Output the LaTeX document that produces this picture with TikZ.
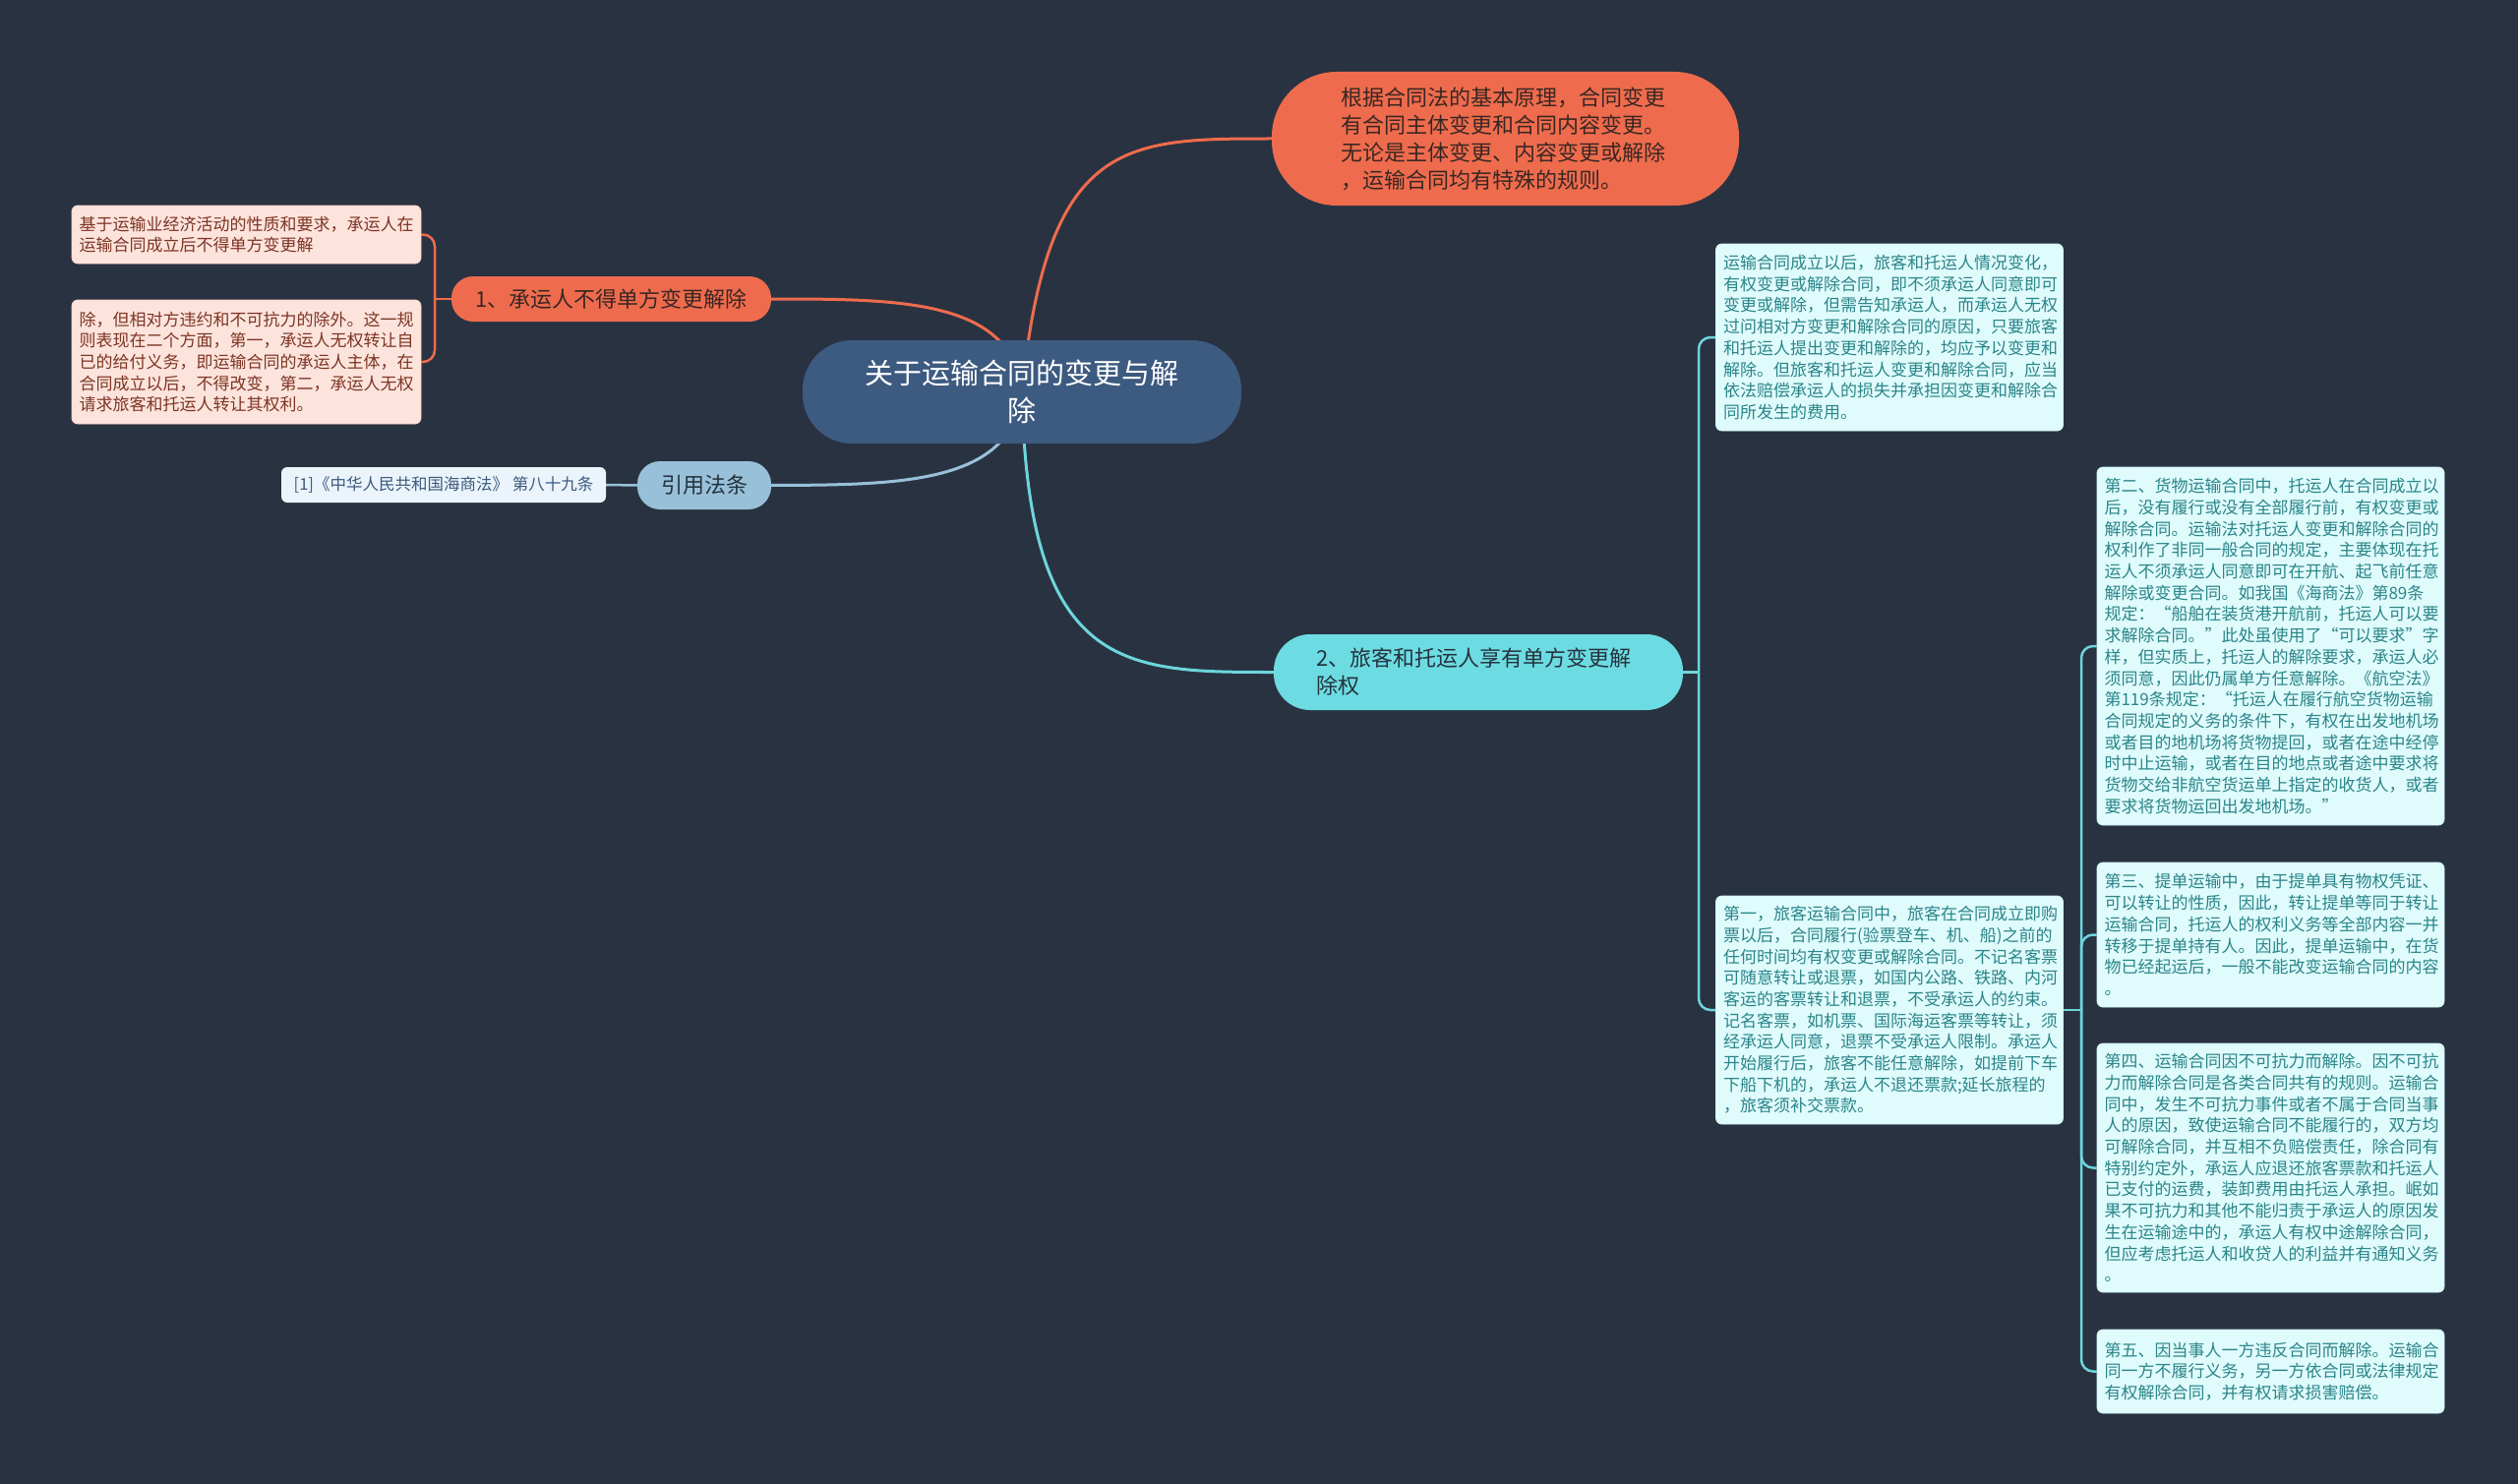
\documentclass[tikz,border=0pt]{standalone}
\usepackage{fontspec}
\newfontfamily\cjk{Noto Sans CJK SC}
\definecolor{bgc}{HTML}{293241}
\definecolor{navy}{HTML}{3D5A80}
\definecolor{orng}{HTML}{EE6C4D}
\definecolor{lblue}{HTML}{98C1D9}
\definecolor{cyanb}{HTML}{6DDCE2}
\definecolor{cyanl}{HTML}{6DD5DD}
\definecolor{leafcyan}{HTML}{E0FBFC}
\definecolor{leafpink}{HTML}{FCE4DC}
\definecolor{pinktext}{HTML}{7E3424}
\definecolor{cyantext}{HTML}{2A8589}
\definecolor{reftext}{HTML}{3D5A80}
\definecolor{reffill}{HTML}{EAF4FA}
\definecolor{darko}{HTML}{3A2623}
\definecolor{darkc}{HTML}{25333F}
\pgfdeclarelayer{bgl}
\pgfdeclarelayer{conn}
\pgfsetlayers{bgl,conn,main}
\begin{document}
\begin{tikzpicture}[x=1pt,y=-1pt,
  leafbase/.style={rectangle, rounded corners=6pt, inner xsep=7.5pt, inner ysep=6pt, align=left,
    font=\cjk\fontsize{17}{21.7}\selectfont, anchor=center},
  pinkleaf/.style={leafbase, fill=leafpink, draw=leafpink!85!orng, line width=0.8pt, text=pinktext, text width=340pt},
  cyanleaf/.style={leafbase, fill=leafcyan, draw=leafcyan!85!cyanl, line width=0.8pt, text=cyantext, text width=338pt},
  refleaf/.style={rectangle, rounded corners=6pt, inner sep=0pt, anchor=center, fill=reffill, text=reftext,
    font=\cjk\fontsize{16.5}{20}\selectfont, minimum width=330pt, minimum height=36pt},
  topic/.style={rectangle, anchor=center, inner sep=0pt, font=\cjk\fontsize{22}{28}\selectfont},
  oconn/.style={draw=orng, line width=3pt},
  bconn/.style={draw=lblue, line width=3pt},
  cconn/.style={draw=cyanl, line width=3pt},
  oarm/.style={draw=orng, line width=2.5pt, rounded corners=12pt},
  carm/.style={draw=cyanl, line width=2.5pt, rounded corners=12pt}
]
\useasboundingbox (0,0) rectangle (2560,1509);
\begin{pgfonlayer}{bgl}
\fill[bgc] (0,0) rectangle (2560,1509);
\end{pgfonlayer}

% central
\node[topic, fill=navy, text=white, rounded corners=50pt, minimum width=446pt, minimum height=105pt,
  align=center, text width=340pt, font=\cjk\fontsize{29}{38}\selectfont] (c) at (1039,398.5)
  {关于运输合同的变更与解\\除};

% top orange
\node[topic, fill=orng, text=darko, rounded corners=66pt, minimum width=475pt, minimum height=136pt,
  align=left, text width=335pt] (t) at (1530.5,141)
  {根据合同法的基本原理，合同变更\\有合同主体变更和合同内容变更。\\无论是主体变更、内容变更或解除\\，运输合同均有特殊的规则。};

% branch 1
\node[topic, fill=orng, text=darko, rounded corners=22pt, minimum width=325pt, minimum height=46pt,
  align=center] (b1) at (621.5,304) {1、承运人不得单方变更解除};

\node[pinkleaf, minimum height=59pt] (l1a) at (250.5,238.5)
  {基于运输业经济活动的性质和要求，承运人在\\运输合同成立后不得单方变更解};
\node[pinkleaf, minimum height=126pt] (l1b) at (250.5,368)
  {除，但相对方违约和不可抗力的除外。这一规\\则表现在二个方面，第一，承运人无权转让自\\已的给付义务，即运输合同的承运人主体，在\\合同成立以后，不得改变，第二，承运人无权\\请求旅客和托运人转让其权利。};

% reference
\node[topic, fill=lblue, text=darkc, rounded corners=23pt, minimum width=136pt, minimum height=49pt,
  align=center] (r) at (716,493.5) {引用法条};
\node[refleaf] (rl) at (451,493) {[1]《中华人民共和国海商法》 第八十九条};

% branch 2
\node[topic, fill=cyanb, text=darkc, rounded corners=37pt, minimum width=416pt, minimum height=77pt,
  align=left, text width=330pt] (b2) at (1503,683.5)
  {2、旅客和托运人享有单方变更解\\除权};

\node[cyanleaf, minimum height=190pt] (l2a) at (1921,343)
  {运输合同成立以后，旅客和托运人情况变化，\\有权变更或解除合同，即不须承运人同意即可\\变更或解除，但需告知承运人，而承运人无权\\过问相对方变更和解除合同的原因，只要旅客\\和托运人提出变更和解除的，均应予以变更和\\解除。但旅客和托运人变更和解除合同，应当\\依法赔偿承运人的损失并承担因变更和解除合\\同所发生的费用。};

\node[cyanleaf, minimum height=232pt] (l2b) at (1921,1027)
  {第一，旅客运输合同中，旅客在合同成立即购\\票以后，合同履行(验票登车、机、船)之前的\\任何时间均有权变更或解除合同。不记名客票\\可随意转让或退票，如国内公路、铁路、内河\\客运的客票转让和退票，不受承运人的约束。\\记名客票，如机票、国际海运客票等转让，须\\经承运人同意，退票不受承运人限制。承运人\\开始履行后，旅客不能任意解除，如提前下车\\下船下机的，承运人不退还票款;延长旅程的\\，旅客须补交票款。};

\node[cyanleaf, minimum height=364pt] (k2) at (2308.5,657)
  {第二、货物运输合同中，托运人在合同成立以\\后，没有履行或没有全部履行前，有权变更或\\解除合同。运输法对托运人变更和解除合同的\\权利作了非同一般合同的规定，主要体现在托\\运人不须承运人同意即可在开航、起飞前任意\\解除或变更合同。如我国《海商法》第89条\\规定：“船舶在装货港开航前，托运人可以要\\求解除合同。”此处虽使用了“可以要求”字\\样，但实质上，托运人的解除要求，承运人必\\须同意，因此仍属单方任意解除。《航空法》\\第119条规定：“托运人在履行航空货物运输\\合同规定的义务的条件下，有权在出发地机场\\或者目的地机场将货物提回，或者在途中经停\\时中止运输，或者在目的地点或者途中要求将\\货物交给非航空货运单上指定的收货人，或者\\要求将货物运回出发地机场。”};

\node[cyanleaf, minimum height=147pt] (k3) at (2308.5,950.5)
  {第三、提单运输中，由于提单具有物权凭证、\\可以转让的性质，因此，转让提单等同于转让\\运输合同，托运人的权利义务等全部内容一并\\转移于提单持有人。因此，提单运输中，在货\\物已经起运后，一般不能改变运输合同的内容\\。};

\node[cyanleaf, minimum height=253pt] (k4) at (2308.5,1187.5)
  {第四、运输合同因不可抗力而解除。因不可抗\\力而解除合同是各类合同共有的规则。运输合\\同中，发生不可抗力事件或者不属于合同当事\\人的原因，致使运输合同不能履行的，双方均\\可解除合同，并互相不负赔偿责任，除合同有\\特别约定外，承运人应退还旅客票款和托运人\\已支付的运费，装卸费用由托运人承担。岷如\\果不可抗力和其他不能归责于承运人的原因发\\生在运输途中的，承运人有权中途解除合同，\\但应考虑托运人和收贷人的利益并有通知义务\\。};

\node[cyanleaf, minimum height=85pt] (k5) at (2308.5,1394.5)
  {第五、因当事人一方违反合同而解除。运输合\\同一方不履行义务，另一方依合同或法律规定\\有权解除合同，并有权请求损害赔偿。};

% junctions
\coordinate (j1) at (442,304);
\coordinate (j2) at (1727,683.5);
\coordinate (j3) at (2116,1027);

\begin{pgfonlayer}{conn}
\draw[oconn] (c.center) .. controls (1065,141) and (1143,141) .. (t.west);
\draw[oconn] (c.center) .. controls (1029,304) and (914,304) .. (b1.east);
\draw[bconn] (c.center) .. controls (1029,493) and (914,493) .. (r.east);
\draw[cconn] (c.center) .. controls (1045,683.5) and (1143,683.5) .. (b2.west);
\draw[bconn, line width=2.5pt] (r.west) -- (rl.east);
\draw[oarm] (b1.west) -- (j1);
\draw[oarm] (j1) |- (l1a.east);
\draw[oarm] (j1) |- (l1b.east);
\draw[carm] (b2.east) -- (j2);
\draw[carm] (j2) |- (l2a.west);
\draw[carm] (j2) |- (l2b.west);
\draw[carm] (l2b.east) -- (j3);
\draw[carm] (j3) |- (k2.west);
\draw[carm] (j3) |- (k3.west);
\draw[carm] (j3) |- (k4.west);
\draw[carm] (j3) |- (k5.west);
\end{pgfonlayer}
\end{tikzpicture}
\end{document}
